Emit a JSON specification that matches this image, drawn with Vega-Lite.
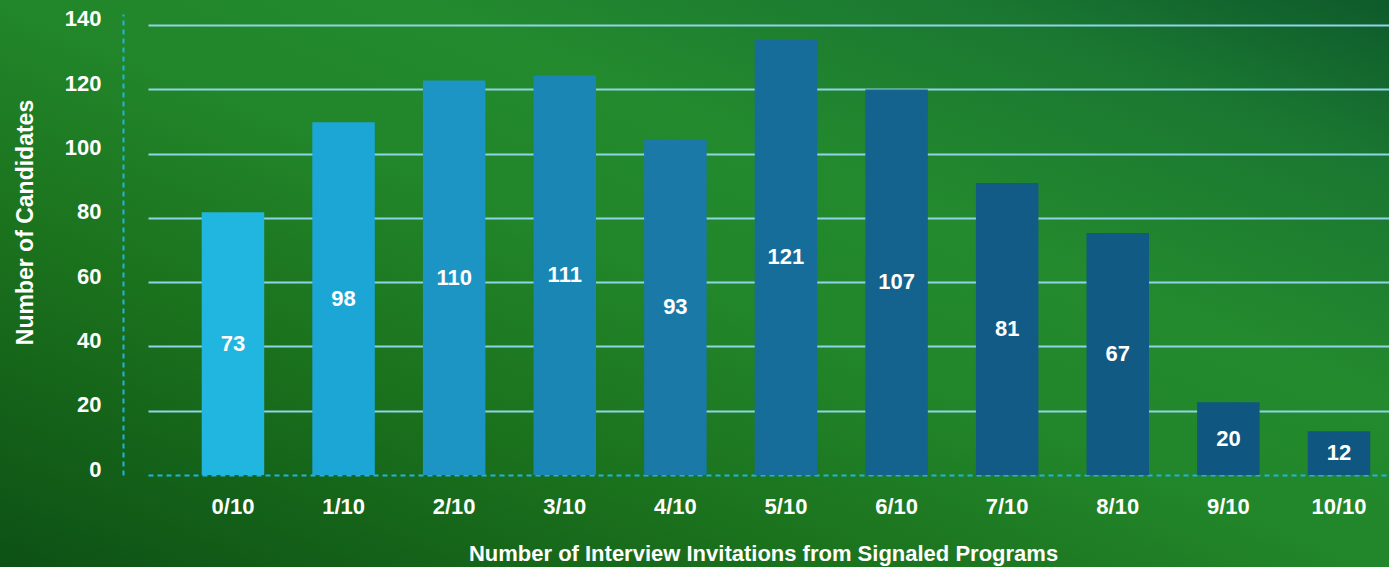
{
  "$schema": "https://vega.github.io/schema/vega-lite/v6.json",
  "width": 1389,
  "height": 567,
  "autosize": {"type": "none"},
  "padding": 0,
  "background": "#1a7322",
  "view": {
    "stroke": null,
    "fill": {
      "gradient": "linear",
      "x1": 0, "y1": 1, "x2": 1, "y2": 0,
      "stops": [
        {"offset": 0, "color": "#0d5115"},
        {"offset": 0.3, "color": "#1b721d"},
        {"offset": 0.5, "color": "#22862a"},
        {"offset": 0.65, "color": "#238a2e"},
        {"offset": 0.85, "color": "#1a7731"},
        {"offset": 1, "color": "#0e5a2b"}
      ]
    }
  },
  "config": {"font": "Liberation Sans"},
  "data": {
    "values": [
      {"invites": "0/10", "bar": 81.7, "candidates": 73},
      {"invites": "1/10", "bar": 109.7, "candidates": 98},
      {"invites": "2/10", "bar": 122.7, "candidates": 110},
      {"invites": "3/10", "bar": 124.3, "candidates": 111},
      {"invites": "4/10", "bar": 104.3, "candidates": 93},
      {"invites": "5/10", "bar": 135.4, "candidates": 121},
      {"invites": "6/10", "bar": 119.9, "candidates": 107},
      {"invites": "7/10", "bar": 90.8, "candidates": 81},
      {"invites": "8/10", "bar": 75.3, "candidates": 67},
      {"invites": "9/10", "bar": 22.6, "candidates": 20},
      {"invites": "10/10", "bar": 13.6, "candidates": 12}
    ]
  },
  "encoding": {
    "x": {
      "field": "invites",
      "type": "nominal",
      "sort": null,
      "scale": {"range": [148, 1389], "paddingInner": 0.435, "paddingOuter": 0.3277, "align": 0.741},
      "axis": {
        "title": "Number of Interview Invitations from Signaled Programs",
        "orient": "bottom",
        "offset": -92,
        "grid": false,
        "domainColor": "#22b2e4",
        "domainDash": [5, 4],
        "domainWidth": 2,
        "ticks": false,
        "labelAngle": 0,
        "labelColor": "white",
        "labelFontSize": 22,
        "labelFontWeight": "bold",
        "labelBaseline": "top",
        "labelPadding": 21,
        "titleColor": "white",
        "titleFontSize": 22,
        "titleFontWeight": "bold",
        "titleX": 763,
        "titleY": 85,
        "titleAlign": "center",
        "titleBaseline": "alphabetic"
      }
    }
  },
  "layer": [
    {
      "mark": {"type": "bar"},
      "encoding": {
        "y": {
          "field": "bar",
          "type": "quantitative",
          "scale": {"domain": [0, 143.4], "range": [475, 14], "nice": false, "zero": true},
          "axis": {
            "title": "Number of Candidates",
            "values": [0, 20, 40, 60, 80, 100, 120, 140],
            "offset": -123,
            "domainColor": "#22b2e4",
            "domainDash": [5, 4],
            "domainWidth": 2,
            "ticks": false,
            "labelPadding": 22,
            "labelColor": "white",
            "labelFontSize": 22,
            "labelFontWeight": "bold",
            "labelOffset": -6,
            "labelBaseline": "middle",
            "labelFlush": false,
            "labelOverlap": false,
            "grid": true,
            "gridColor": "#8fd4e8",
            "gridWidth": 2,
            "gridOpacity": {"condition": {"test": "datum.value === 0", "value": 0}, "value": 1},
            "titleColor": "white",
            "titleFontSize": 23,
            "titleFontWeight": "bold",
            "titleX": -98,
            "titleY": 222,
            "titleAngle": -90,
            "titleAlign": "center",
            "titleBaseline": "middle"
          }
        },
        "color": {
          "field": "invites",
          "type": "nominal",
          "legend": null,
          "scale": {
            "domain": ["0/10", "1/10", "2/10", "3/10", "4/10", "5/10", "6/10", "7/10", "8/10", "9/10", "10/10"],
            "range": ["#20b6e0", "#1ca6d5", "#1c95c4", "#1a86b3", "#1a79a7", "#176d9a", "#14628e", "#125b87", "#105a84", "#0f5780", "#0f5780"]
          }
        }
      }
    },
    {
      "mark": {"type": "text", "color": "white", "fontSize": 22, "fontWeight": "bold", "baseline": "middle", "align": "center"},
      "encoding": {
        "y": {
          "field": "bar",
          "type": "quantitative",
          "scale": {"domain": [0, 286.8], "range": [475, 14], "nice": false, "zero": true},
          "axis": null
        },
        "text": {"field": "candidates", "type": "quantitative"}
      }
    }
  ],
  "resolve": {"scale": {"y": "independent"}}
}
